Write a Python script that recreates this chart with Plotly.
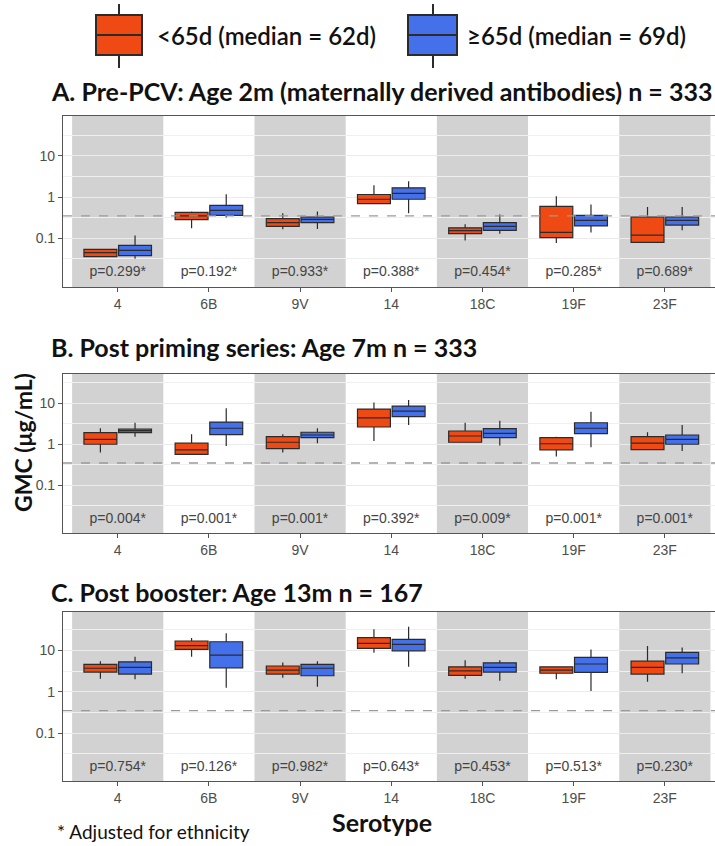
import plotly.graph_objects as go

W, H = 715, 846

serotypes = ["4", "6B", "9V", "14", "18C", "19F", "23F"]

# Panel A: Pre-PCV (age 2m)
a_lt_q1 = [0.036, 0.285, 0.196, 0.70, 0.13, 0.104, 0.080]
a_lt_med = [0.045, 0.35, 0.24, 0.89, 0.154, 0.14, 0.12]
a_lt_q3 = [0.054, 0.43, 0.30, 1.16, 0.18, 0.60, 0.33]
a_lt_lo = [0.035, 0.175, 0.166, 0.68, 0.089, 0.077, 0.078]
a_lt_hi = [0.056, 0.45, 0.41, 1.96, 0.22, 1.06, 0.58]
a_ge_q1 = [0.038, 0.36, 0.24, 0.89, 0.157, 0.20, 0.21]
a_ge_med = [0.051, 0.48, 0.29, 1.23, 0.196, 0.275, 0.275]
a_ge_q3 = [0.068, 0.63, 0.33, 1.69, 0.24, 0.36, 0.33]
a_ge_lo = [0.032, 0.32, 0.17, 0.41, 0.13, 0.138, 0.157]
a_ge_hi = [0.118, 1.18, 0.45, 2.45, 0.38, 0.66, 0.58]
a_p = ["p=0.299*", "p=0.192*", "p=0.933*", "p=0.388*", "p=0.454*", "p=0.285*", "p=0.689*"]

# Panel B: Post priming (age 7m)
b_lt_q1 = [1.0, 0.57, 0.78, 2.63, 1.12, 0.73, 0.74]
b_lt_med = [1.32, 0.73, 1.12, 4.4, 1.59, 1.03, 1.06]
b_lt_q3 = [1.91, 1.06, 1.53, 7.2, 2.1, 1.45, 1.53]
b_lt_lo = [0.63, 0.56, 0.63, 1.2, 1.1, 0.5, 0.72]
b_lt_hi = [2.45, 1.75, 1.75, 10.4, 3.34, 1.53, 1.96]
b_ge_q1 = [1.91, 1.71, 1.45, 4.7, 1.45, 1.81, 1.0]
b_ge_med = [2.14, 2.45, 1.68, 6.4, 1.85, 2.45, 1.32]
b_ge_q3 = [2.35, 3.47, 1.96, 8.5, 2.39, 3.34, 1.68]
b_ge_lo = [1.53, 0.91, 1.06, 2.94, 0.93, 0.85, 0.69]
b_ge_hi = [3.34, 7.5, 2.45, 11.9, 3.74, 6.2, 2.94]
b_p = ["p=0.004*", "p=0.001*", "p=0.001*", "p=0.392*", "p=0.009*", "p=0.001*", "p=0.001*"]

# Panel C: Post booster (age 13m)
c_lt_q1 = [3.0, 10.6, 2.68, 11.2, 2.5, 2.8, 2.68]
c_lt_med = [3.7, 13.0, 3.35, 14.8, 3.2, 3.35, 3.9]
c_lt_q3 = [4.6, 16.9, 4.2, 20.3, 4.0, 4.0, 5.5]
c_lt_lo = [2.06, 7.0, 2.18, 8.8, 2.06, 2.0, 1.75]
c_lt_hi = [5.5, 19.9, 5.1, 32.5, 5.8, 4.0, 12.8]
c_ge_q1 = [2.68, 3.8, 2.44, 9.8, 3.0, 2.95, 4.7]
c_ge_med = [3.9, 7.7, 3.7, 14.0, 3.9, 4.7, 6.6]
c_ge_q3 = [5.3, 16.2, 4.6, 18.6, 5.0, 6.8, 9.0]
c_ge_lo = [2.0, 1.25, 1.32, 4.0, 1.85, 1.04, 2.8]
c_ge_hi = [7.0, 26.0, 5.5, 37.5, 5.8, 10.6, 11.8]
c_p = ["p=0.754*", "p=0.126*", "p=0.982*", "p=0.643*", "p=0.453*", "p=0.513*", "p=0.230*"]

threshold = 0.35
p_label_y = 0.0145
y_ticks = [0.1, 1, 10]
y_tick_text = ["0.1", "1", "10"]
minor_grid = [0.00316, 0.0316, 0.316, 3.16, 31.6]

titles = [
    "A. Pre-PCV: Age 2m (maternally derived antibodies) n = 333",
    "B. Post priming series: Age 7m n = 333",
    "C. Post booster: Age 13m n = 167",
]
legend_labels = ["<65d (median = 62d)", "\u226565d (median = 69d)"]

ORANGE = "#F04A14"
BLUE = "#4470EA"
EDGE = "#2b2b2b"
BAND = "#D2D2D2"


def px(x):
    return x / W


def py(y):
    return 1 - y / H


panels = [
    dict(top=116, bot=287, rng=[-2.18, 1.97],
         lt=(a_lt_q1, a_lt_med, a_lt_q3, a_lt_lo, a_lt_hi),
         ge=(a_ge_q1, a_ge_med, a_ge_q3, a_ge_lo, a_ge_hi), p=a_p, title_y=91),
    dict(top=374, bot=533, rng=[-2.16, 1.71],
         lt=(b_lt_q1, b_lt_med, b_lt_q3, b_lt_lo, b_lt_hi),
         ge=(b_ge_q1, b_ge_med, b_ge_q3, b_ge_lo, b_ge_hi), p=b_p, title_y=347),
    dict(top=612, bot=781, rng=[-2.16, 1.93],
         lt=(c_lt_q1, c_lt_med, c_lt_q3, c_lt_lo, c_lt_hi),
         ge=(c_ge_q1, c_ge_med, c_ge_q3, c_ge_lo, c_ge_hi), p=c_p, title_y=592),
]

fig = go.Figure()
shapes = []
annotations = []
x_left = 63

for i, pnl in enumerate(panels):
    k = "" if i == 0 else str(i + 1)
    xa, ya = "x" + k, "y" + k
    for stats, color, name in [(pnl["lt"], ORANGE, legend_labels[0]), (pnl["ge"], BLUE, legend_labels[1])]:
        q1, med, q3, lo, hi = stats
        fig.add_trace(go.Box(
            x=serotypes, q1=q1, median=med, q3=q3, lowerfence=lo, upperfence=hi,
            name=name, offsetgroup=name, fillcolor=color,
            line=dict(color=EDGE, width=1.2), whiskerwidth=0,
            boxpoints=False, showlegend=False, hoverinfo="skip",
            xaxis=xa, yaxis=ya,
        ))
    fig.add_trace(go.Scatter(
        x=serotypes, y=[p_label_y] * len(serotypes), text=pnl["p"], mode="text",
        textfont=dict(family="Liberation Sans", size=14, color="#444444"),
        showlegend=False, hoverinfo="skip", xaxis=xa, yaxis=ya,
    ))
    for j in range(0, len(serotypes), 2):
        shapes.append(dict(type="rect", xref=xa, yref=ya + " domain", x0=j - 0.5, x1=j + 0.5,
                           y0=0, y1=1, fillcolor=BAND, line=dict(width=0), layer="below"))
    shapes.append(dict(type="line", xref=xa + " domain", yref=ya, x0=0, x1=1,
                       y0=threshold, y1=threshold, line=dict(color="#9a9a9a", width=1.3, dash="dash"),
                       layer="above"))
    dom_y = [py(pnl["bot"]), py(pnl["top"])]
    fig.update_layout(**{
        ("xaxis" + k): dict(
            domain=[px(x_left), 1.0], type="category", range=[-0.6, 6.55],
            categoryorder="array", categoryarray=serotypes,
            showline=True, linecolor="#555555", linewidth=1.2, mirror=True,
            ticks="outside", ticklen=4, tickcolor="#555555",
            tickfont=dict(family="Liberation Sans", size=14, color="#4d4d4d"),
            showgrid=False, zeroline=False, anchor=ya, automargin=False, fixedrange=True,
        ),
        ("yaxis" + k): dict(
            domain=dom_y, type="log", range=pnl["rng"],
            tickvals=y_ticks, ticktext=y_tick_text,
            showline=True, linecolor="#555555", linewidth=1.2, mirror=True,
            ticks="outside", ticklen=4, tickcolor="#555555",
            tickfont=dict(family="Liberation Sans", size=14, color="#4d4d4d"),
            showgrid=True, gridcolor="#EBEBEB", gridwidth=1,
            minor=dict(tickvals=minor_grid, showgrid=True, gridcolor="#F0F0F0", gridwidth=0.8, ticks=""),
            zeroline=False, anchor=xa, automargin=False, fixedrange=True,
        ),
    })
    annotations.append(dict(text=titles[i], xref="paper", yref="paper", x=px(49), y=py(pnl["title_y"]),
                            xanchor="left", yanchor="middle", showarrow=False,
                            font=dict(family="Lato", size=25, color="#111111", weight="bold")))

for (x0, x1, xc), color, label, tx in [((96, 142, 119), ORANGE, legend_labels[0], 155),
                                        ((408, 457, 433), BLUE, legend_labels[1], 465)]:
    shapes.append(dict(type="line", xref="paper", yref="paper", x0=px(xc), x1=px(xc), y0=py(4), y1=py(68),
                       line=dict(color=EDGE, width=2)))
    shapes.append(dict(type="rect", xref="paper", yref="paper", x0=px(x0), x1=px(x1), y0=py(15), y1=py(55),
                       fillcolor=color, line=dict(color=EDGE, width=2)))
    shapes.append(dict(type="line", xref="paper", yref="paper", x0=px(x0), x1=px(x1), y0=py(35), y1=py(35),
                       line=dict(color=EDGE, width=2)))
    annotations.append(dict(text=label, xref="paper", yref="paper", x=px(tx), y=py(36),
                            xanchor="left", yanchor="middle", showarrow=False,
                            font=dict(family="Lato", size=24, color="#111111", weight=600)))

annotations.append(dict(text="GMC (\u03bcg/mL)", xref="paper", yref="paper", x=px(23), y=py(443),
                        xanchor="center", yanchor="middle", textangle=-90, showarrow=False,
                        font=dict(family="Lato", size=23, color="#111111", weight="bold")))
annotations.append(dict(text="Serotype", xref="paper", yref="paper", x=px(382), y=py(822),
                        xanchor="center", yanchor="middle", showarrow=False,
                        font=dict(family="Lato", size=25, color="#111111", weight="bold")))
annotations.append(dict(text="* Adjusted for ethnicity", xref="paper", yref="paper", x=px(55), y=py(831),
                        xanchor="left", yanchor="middle", showarrow=False,
                        font=dict(family="Lato", size=19, color="#111111")))

fig.update_layout(
    width=W, height=H, margin=dict(l=0, r=0, t=0, b=0),
    paper_bgcolor="white", plot_bgcolor="white",
    boxmode="group", boxgap=0.24, boxgroupgap=0.05,
    shapes=shapes, annotations=annotations, showlegend=False,
)

fig.write_html("out.html", config={"displayModeBar": False},
               post_script="document.body.style.margin='0';document.body.style.padding='0';")
